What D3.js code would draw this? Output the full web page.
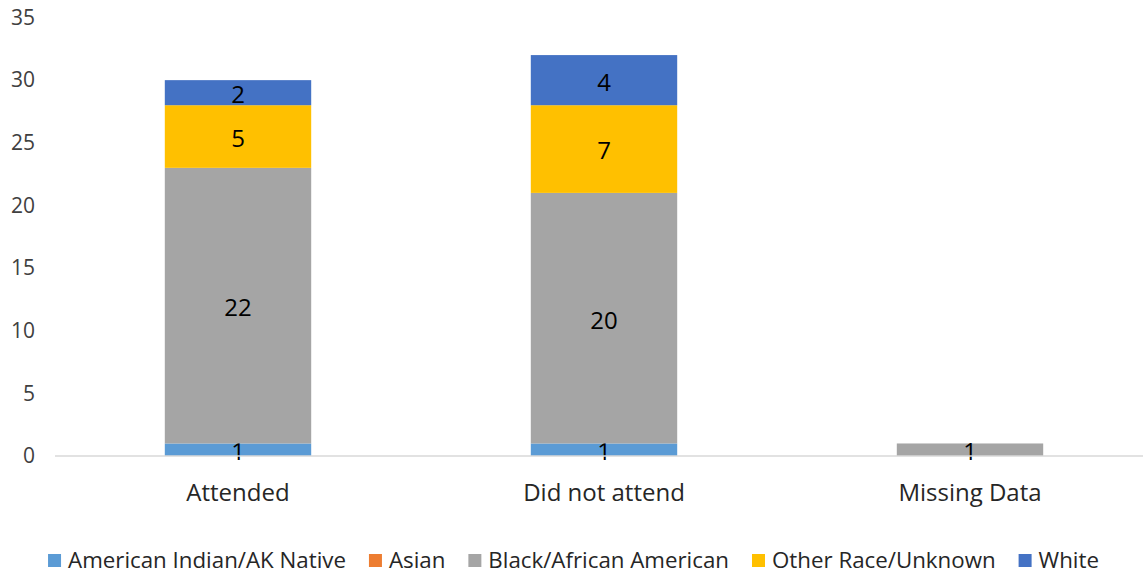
<!DOCTYPE html>
<html>
<head>
<meta charset="utf-8">
<script src="https://cdn.jsdelivr.net/npm/d3@7"></script>
<style>
  body { margin: 0; background: #fff; }
  svg { display: block; font-family: "Open Sans", "Liberation Sans", sans-serif; }
</style>
</head>
<body>
<div id="chart"></div>
<script>
// categories and series
const categories = ['Attended', 'Did not attend', 'Missing Data'];
const seriesNames = ['American Indian/AK Native', 'Asian', 'Black/African American', 'Other Race/Unknown', 'White'];
const americanIndian = [1, 1, 0];
const asian = [0, 0, 0];
const black = [22, 20, 1];
const otherRace = [5, 7, 0];
const white = [2, 4, 0];
const yTicks = [0, 5, 10, 15, 20, 25, 30, 35];

const colors = ['#5B9BD5', '#ED7D31', '#A5A5A5', '#FFC000', '#4472C4'];

const width = 1143;
const height = 576;
const margin = { top: 17.5, right: -10, bottom: 120, left: 55 };

// build rows for d3.stack
const seriesValues = [americanIndian, asian, black, otherRace, white];
const rows = categories.map((c, i) => {
    const row = { category: c };
    seriesNames.forEach((s, j) => { row[s] = seriesValues[j][i]; });
    return row;
});
const stacked = d3.stack().keys(seriesNames)(rows);

const svg = d3.select('#chart')
    .append('svg')
    .attr('width', width)
    .attr('height', height);

const x = d3.scaleBand()
    .domain(categories)
    .range([margin.left, width - margin.right])
    .paddingInner(0.6)
    .paddingOuter(0.3);

const y = d3.scaleLinear()
    .domain([0, 35])
    .range([height - margin.bottom, margin.top]);

// y axis labels (no axis line)
svg.append('g')
    .selectAll('text')
    .data(yTicks)
    .enter()
    .append('text')
    .attr('x', 35)
    .attr('y', d => y(d))
    .attr('dy', '0.35em')
    .attr('text-anchor', 'end')
    .attr('font-size', '21px')
    .attr('fill', '#404040')
    .text(d => d);

// bars
const layers = svg.append('g')
    .selectAll('g')
    .data(stacked)
    .enter()
    .append('g')
    .attr('fill', (d, i) => colors[i]);

layers.selectAll('rect')
    .data(d => d)
    .enter()
    .append('rect')
    .attr('x', d => x(d.data.category))
    .attr('y', d => y(d[1]))
    .attr('width', x.bandwidth())
    .attr('height', d => y(d[0]) - y(d[1]));

// baseline
svg.append('line')
    .attr('x1', margin.left)
    .attr('x2', width)
    .attr('y1', y(0))
    .attr('y2', y(0))
    .attr('stroke', '#D9D9D9')
    .attr('stroke-width', 1.5);

// data labels
layers.selectAll('text')
    .data(d => d.filter(p => p[1] - p[0] > 0))
    .enter()
    .append('text')
    .attr('x', d => x(d.data.category) + x.bandwidth() / 2)
    .attr('y', d => (y(d[0]) + y(d[1])) / 2 + 2)
    .attr('dy', '0.35em')
    .attr('text-anchor', 'middle')
    .attr('font-size', '24px')
    .attr('fill', '#000')
    .text(d => d[1] - d[0]);

// category labels
svg.append('g')
    .selectAll('text')
    .data(categories)
    .enter()
    .append('text')
    .attr('x', d => x(d) + x.bandwidth() / 2)
    .attr('y', y(0) + 37)
    .attr('dy', '0.35em')
    .attr('text-anchor', 'middle')
    .attr('font-size', '24px')
    .attr('fill', '#262626')
    .text(d => d);

// legend
const legend = svg.append('g').attr('transform', 'translate(0,560)');
const items = legend.selectAll('g')
    .data(seriesNames)
    .enter()
    .append('g');

items.append('rect')
    .attr('y', -6)
    .attr('width', 13)
    .attr('height', 13)
    .attr('fill', (d, i) => colors[i]);

items.append('text')
    .attr('x', 20)
    .attr('dy', '0.35em')
    .attr('font-size', '22.3px')
    .attr('fill', '#262626')
    .text(d => d);

// place items side by side, centred
let offset = 0;
const positions = [];
items.each(function() {
    positions.push(offset);
    offset += this.getBBox().width + 23;
});
const start = (width - (offset - 23)) / 2 + 2;
items.attr('transform', (d, i) => `translate(${start + positions[i]},0)`);
</script>
</body>
</html>
